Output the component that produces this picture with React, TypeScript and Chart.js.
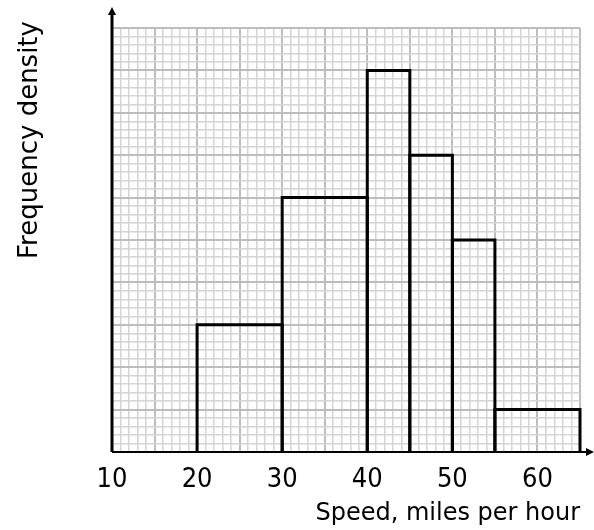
import React, { useEffect, useRef } from "react";
import { Chart, registerables } from "chart.js";

Chart.register(...registerables);

const binEdges = [20, 30, 40, 45, 50, 55, 65];
const frequencyDensity = [3, 6, 9, 7, 5, 1];
const xLabelValues = [10, 20, 30, 40, 50, 60];
const xTitle = "Speed, miles per hour";
const yTitle = "Frequency density";

const FONT = "'DejaVu Sans', sans-serif";
const TICK_FONT = "'DejaVu Sans Condensed', 'DejaVu Sans', sans-serif";

const decorPlugin = {
  id: "decor",
  afterDraw(chart: any) {
    const { ctx, chartArea, scales } = chart;
    const x0 = scales.x.getPixelForValue(10);
    const yb = scales.y.getPixelForValue(0);
    ctx.save();
    ctx.strokeStyle = "#000";
    ctx.fillStyle = "#000";
    // y axis with arrow
    ctx.lineWidth = 3;
    ctx.beginPath();
    ctx.moveTo(x0, yb);
    ctx.lineTo(x0, 14);
    ctx.stroke();
    ctx.beginPath();
    ctx.moveTo(x0, 7);
    ctx.lineTo(x0 - 4, 15);
    ctx.lineTo(x0 + 4, 15);
    ctx.closePath();
    ctx.fill();
    // x axis with arrow
    ctx.lineWidth = 2;
    ctx.beginPath();
    ctx.moveTo(x0, yb);
    ctx.lineTo(587, yb);
    ctx.stroke();
    ctx.beginPath();
    ctx.moveTo(594, yb);
    ctx.lineTo(586, yb - 4);
    ctx.lineTo(586, yb + 4);
    ctx.closePath();
    ctx.fill();
    // titles
    ctx.font = `24px ${FONT}`;
    ctx.textAlign = "right";
    ctx.textBaseline = "middle";
    ctx.fillText(xTitle, chartArea.right, 514);
    ctx.translate(30, 140);
    ctx.rotate(-Math.PI / 2);
    ctx.textAlign = "center";
    ctx.font = `26px ${FONT}`;
    ctx.fillText(yTitle, 0, 0);
    ctx.restore();
  },
};

const isMajor = (v: number) => Math.abs(v - Math.round(v)) < 1e-6;

export default function App() {
  const ref = useRef<HTMLCanvasElement>(null);
  useEffect(() => {
    const datasets = frequencyDensity.map((d, i) => ({
      data: [
        { x: binEdges[i], y: 0 },
        { x: binEdges[i], y: d },
        { x: binEdges[i + 1], y: d },
        { x: binEdges[i + 1], y: 0 },
      ],
      showLine: true,
      borderColor: "#000",
      borderWidth: 3,
      pointRadius: 0,
      fill: false,
      tension: 0,
      clip: false as any,
    }));
    const chart = new Chart(ref.current!, {
      type: "scatter",
      data: { datasets },
      plugins: [decorPlugin],
      options: {
        animation: false,
        responsive: false,
        layout: { padding: { top: 28, right: 14, left: 0, bottom: 0 } },
        plugins: { legend: { display: false }, tooltip: { enabled: false } },
        scales: {
          x: {
            type: "linear",
            min: 10,
            max: 65,
            afterFit: (s: any) => {
              s.height = 78;
            },
            ticks: {
              stepSize: 1,
              autoSkip: false,
              maxRotation: 0,
              padding: 12,
              color: "#000",
              font: { family: TICK_FONT, size: 27 },
              callback: (v: any) => (xLabelValues.includes(Number(v)) ? String(v) : ""),
            },
            grid: {
              drawTicks: false,
              color: (c: any) => (c.tick && c.tick.value % 5 === 0 ? "#bdbdbd" : "#d4d4d4"),
              lineWidth: (c: any) => (c.tick && c.tick.value % 5 === 0 ? 2 : 1.5),
            },
            border: { display: false },
          },
          y: {
            type: "linear",
            min: 0,
            max: 10,
            afterFit: (s: any) => {
              s.width = 112;
            },
            ticks: { stepSize: 0.2, display: false },
            grid: {
              drawTicks: false,
              color: (c: any) => (isMajor(c.tick ? c.tick.value : 0) ? "#bdbdbd" : "#d4d4d4"),
              lineWidth: (c: any) => (isMajor(c.tick ? c.tick.value : 0) ? 2 : 1.5),
            },
            border: { display: false },
          },
        },
      },
    });
    return () => chart.destroy();
  }, []);
  return (
    <div style={{ position: "absolute", left: 0, top: 0, width: 594, height: 530, background: "#fff" }}>
      <canvas ref={ref} width={594} height={530} style={{ width: 594, height: 530 }} />
    </div>
  );
}
